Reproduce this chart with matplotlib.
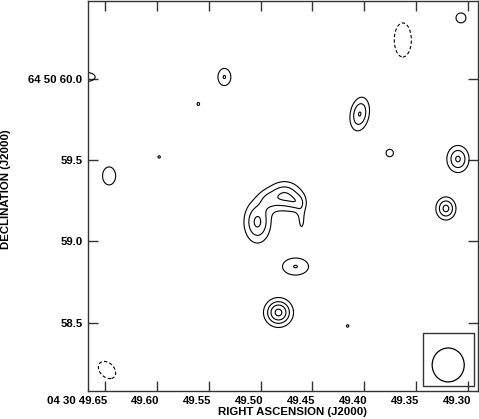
import numpy as np
import matplotlib.pyplot as plt
from matplotlib.patches import Ellipse, Rectangle
from matplotlib.transforms import ScaledTranslation

plt.rcParams["font.family"] = "Liberation Sans"
plt.rcParams["font.weight"] = "bold"
plt.rcParams["font.size"] = 8.2

# map components
# RA in s after 04h30m, Dec in arcsec after +64d50', peak in contour units,
# sigmas in arcsec (u along angle, v across), angle in deg (screen, ccw)
comp_ra = [49.668, 49.5348, 49.5599, 49.5976, 49.4161, 49.6458, 49.363, 49.307,
           49.4045, 49.3756, 49.3099, 49.3215,
           49.503, 49.4769, 49.4933, 49.4605, 49.4644,
           49.4663, 49.4827, 49.6478]
comp_dec = [60.0123, 60.012, 59.846, 59.520, 58.479, 59.403, 60.240, 60.376,
            59.784, 59.544, 59.507, 59.2025,
            59.1194, 59.2795, 59.2549, 59.1317, 59.2364,
            58.845, 58.562, 58.208]
comp_peak = [1.5, 2.05, 1.05, 1.03, 1.03, 1.8, -1.6, 1.4,
             3.05, 1.3, 3.15, 3.3,
             3.2, 3.12, 1.2, 1.15, 1.4,
             2.03, 4.3, -1.5]
comp_su = [0.062, 0.033, 0.025, 0.03, 0.03, 0.037, 0.054, 0.037,
           0.039, 0.031, 0.045, 0.040,
           0.0542, 0.068, 0.043, 0.0216, 0.037,
           0.067, 0.054, 0.068]
comp_sv = [0.031, 0.044, 0.030, 0.03, 0.03, 0.051, 0.108, 0.037,
           0.070, 0.031, 0.055, 0.046,
           0.085, 0.0585, 0.043, 0.074, 0.037,
           0.044, 0.054, 0.048]
comp_ang = [0, 0, 0, 0, 0, 0, 0, 0,
            -10, 0, 0, 0,
            0, 0, 0, 0, 0,
            0, 0, -45]

levels_pos = [1, 2, 3, 4]
levels_neg = [-1]

beam_ra, beam_dec = 49.3193, 58.239
beam_maj, beam_min = 0.209, 0.197
box_ra = (49.344, 49.2948)
box_dec = (58.110, 58.436)

ra_lim = (49.6666, 49.2906)
dec_lim = (58.0787, 60.480)

xticks = [49.65, 49.60, 49.55, 49.50, 49.45, 49.40, 49.35, 49.30]
xticklabels = ["04 30 49.65", "49.60", "49.55", "49.50", "49.45", "49.40", "49.35", "49.30"]
yticks = [60.0, 59.5, 59.0, 58.5]
yticklabels = ["64 50 60.0", "59.5", "59.0", "58.5"]

sec_to_arcsec = 15 * np.cos(np.deg2rad(64 + 50 / 60))

ra = np.linspace(ra_lim[1], ra_lim[0], 900)
dec = np.linspace(dec_lim[0], dec_lim[1], 900)
RA, DEC = np.meshgrid(ra, dec)
img = np.zeros_like(RA)
for r0, d0, a, su, sv, ang in zip(comp_ra, comp_dec, comp_peak, comp_su, comp_sv, comp_ang):
    X = -(RA - r0) * sec_to_arcsec
    Y = DEC - d0
    t = np.deg2rad(ang)
    u = X * np.cos(t) + Y * np.sin(t)
    v = -X * np.sin(t) + Y * np.cos(t)
    img += a * np.exp(-0.5 * ((u / su) ** 2 + (v / sv) ** 2))

fig = plt.figure(figsize=(4.79, 4.19), dpi=100)
ax = fig.add_axes([87.5 / 479, 28 / 419, 390.5 / 479, 390 / 419])

ax.contour(RA, DEC, img, levels=levels_pos, colors="black", linewidths=0.8)
ax.contour(RA, DEC, img, levels=levels_neg, colors="black", linewidths=0.8,
           linestyles=[(0, (3, 2))])

ax.add_patch(Rectangle((box_ra[0], box_dec[0]), box_ra[1] - box_ra[0], box_dec[1] - box_dec[0],
                       fill=False, ec="#333333", lw=1.0))
ax.add_patch(Ellipse((beam_ra, beam_dec), beam_min / sec_to_arcsec, beam_maj,
                     fill=False, ec="black", lw=0.9))

ax.set_xlim(*ra_lim)
ax.set_ylim(*dec_lim)

ax.set_xticks(xticks)
ax.set_xticklabels(xticklabels)
ax.set_yticks(yticks)
ax.set_yticklabels(yticklabels)
ax.tick_params(direction="in", length=7.2, width=1.0, color="#333333",
               top=True, right=True, pad=3.6)
for lab in ax.get_xticklabels():
    lab.set_ha("right")
    lab.set_transform(lab.get_transform() + ScaledTranslation(3 / 100, 0, fig.dpi_scale_trans))

for sp in ax.spines.values():
    sp.set_color("#333333")
    sp.set_linewidth(1.0)

fig.text(292.5 / 479, 2 / 419, "RIGHT ASCENSION (J2000)", ha="center", va="bottom")
fig.text(6 / 479, 1 - 189 / 419, "DECLINATION (J2000)", ha="center", va="center",
         rotation=90)

fig.savefig("out.png", dpi=100)
